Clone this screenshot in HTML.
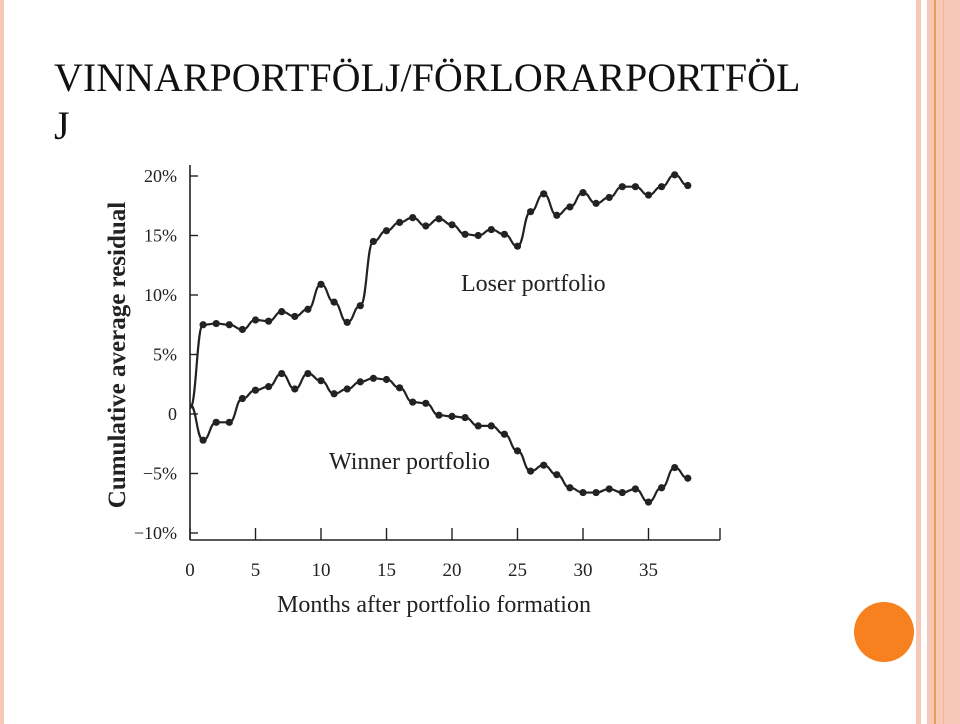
<!DOCTYPE html>
<html><head><meta charset="utf-8"><style>
body{margin:0;width:960px;height:724px;background:#fff;overflow:hidden;position:relative;font-family:"Liberation Serif",serif}
.s{position:absolute;top:0;height:724px}
</style></head><body>
<div class="s" style="left:0;width:4px;background:#f6c9b6"></div>
<div class="s" style="left:916px;width:5px;background:#f6c9b6"></div>
<div class="s" style="left:927px;width:33px;background:#f6c9b6"></div>
<div class="s" style="left:934px;width:2px;background:#f09a60"></div>
<div class="s" style="left:943px;width:1px;background:#f3b59a"></div>
<div style="position:absolute;left:854px;top:602px;width:60px;height:60px;border-radius:50%;background:#f7801f"></div>
<div style="position:absolute;left:54px;top:54px;font-size:40px;line-height:48px;color:#111;width:850px">VINNARPORTFÖLJ/FÖRLORARPORTFÖL<br>J</div>
<svg id="c" width="960" height="724" style="position:absolute;left:0;top:0"></svg>
<script>
const months=[0,1,2,3,4,5,6,7,8,9,10,11,12,13,14,15,16,17,18,19,20,21,22,23,24,25,26,27,28,29,30,31,32,33,34,35,36,37,38];
const loser=[0.5,7.5,7.6,7.5,7.1,7.9,7.8,8.6,8.2,8.8,10.9,9.4,7.7,9.1,14.5,15.4,16.1,16.5,15.8,16.4,15.9,15.1,15.0,15.5,15.1,14.1,17.0,18.5,16.7,17.4,18.6,17.7,18.2,19.1,19.1,18.4,19.1,20.1,19.2];
const winner=[0.8,-2.2,-0.7,-0.7,1.3,2.0,2.3,3.4,2.1,3.4,2.8,1.7,2.1,2.7,3.0,2.9,2.2,1.0,0.9,-0.1,-0.2,-0.3,-1.0,-1.0,-1.7,-3.1,-4.8,-4.3,-5.1,-6.2,-6.6,-6.6,-6.3,-6.6,-6.3,-7.4,-6.2,-4.5,-5.4];
const yTicks=[20,15,10,5,0,-5,-10];
const yLabels=["20%","15%","10%","5%","0","\u22125%","\u221210%"];
const xTicks=[0,5,10,15,20,25,30,35];
const NS="http://www.w3.org/2000/svg",svg=document.getElementById('c');
const X=m=>190+13.1*m, Y=v=>414-11.9*v;
function mk(t,a){const e=document.createElementNS(NS,t);for(const k in a)e.setAttribute(k,a[k]);svg.appendChild(e);return e;}
const ink="#222",F='font-family:"Liberation Serif",serif;fill:#222';
let e=mk('line',{x1:190,y1:165,x2:190,y2:540,stroke:ink,'stroke-width':1.6});

e=mk('line',{x1:190,y1:540,x2:720,y2:540,stroke:ink,'stroke-width':1.6});

yTicks.forEach((v,i)=>{const t=mk('line',{x1:190,y1:Y(v),x2:198,y2:Y(v),stroke:ink,'stroke-width':1.4});

const l=mk('text',{x:177,y:Y(v)+6,'text-anchor':'end','font-size':18,style:F});l.textContent=yLabels[i];
});
xTicks.forEach(m=>{const t=mk('line',{x1:X(m),y1:528,x2:X(m),y2:540,stroke:ink,'stroke-width':1.4});

const l=mk('text',{x:X(m),y:576,'text-anchor':'middle','font-size':19,style:F});l.textContent=m;
});
let t=mk('line',{x1:720,y1:528,x2:720,y2:540,stroke:ink,'stroke-width':1.4});

let l=mk('text',{x:434,y:612,'text-anchor':'middle','font-size':24,style:F});l.textContent='Months after portfolio formation';

l=mk('text',{x:0,y:0,'text-anchor':'middle','font-size':25,'font-weight':'bold',transform:'translate(125,355) rotate(-90)',style:F});l.textContent='Cumulative average residual';

function series(vals,name){
 let d='';vals.forEach((v,i)=>{const x=X(months[i]),y=Y(v);
  if(i===0)d='M'+x+' '+y;else{const xp=X(months[i-1]),yp=Y(vals[i-1]);const cx=(xp+x)/2;d+=` C${cx} ${yp} ${cx} ${y} ${x} ${y}`;}});
 const p=mk('path',{d:d,fill:'none',stroke:ink,'stroke-width':2.2});
 
 vals.forEach((v,i)=>{if(i===0)return;const c=mk('circle',{cx:X(months[i]),cy:Y(v),r:3.6,fill:ink});
  });
}
series(loser,'loser');series(winner,'winner');
l=mk('text',{x:461,y:291,'font-size':24,style:F});l.textContent='Loser portfolio';

l=mk('text',{x:329,y:469,'font-size':24,style:F});l.textContent='Winner portfolio';

</script>
</body></html>
